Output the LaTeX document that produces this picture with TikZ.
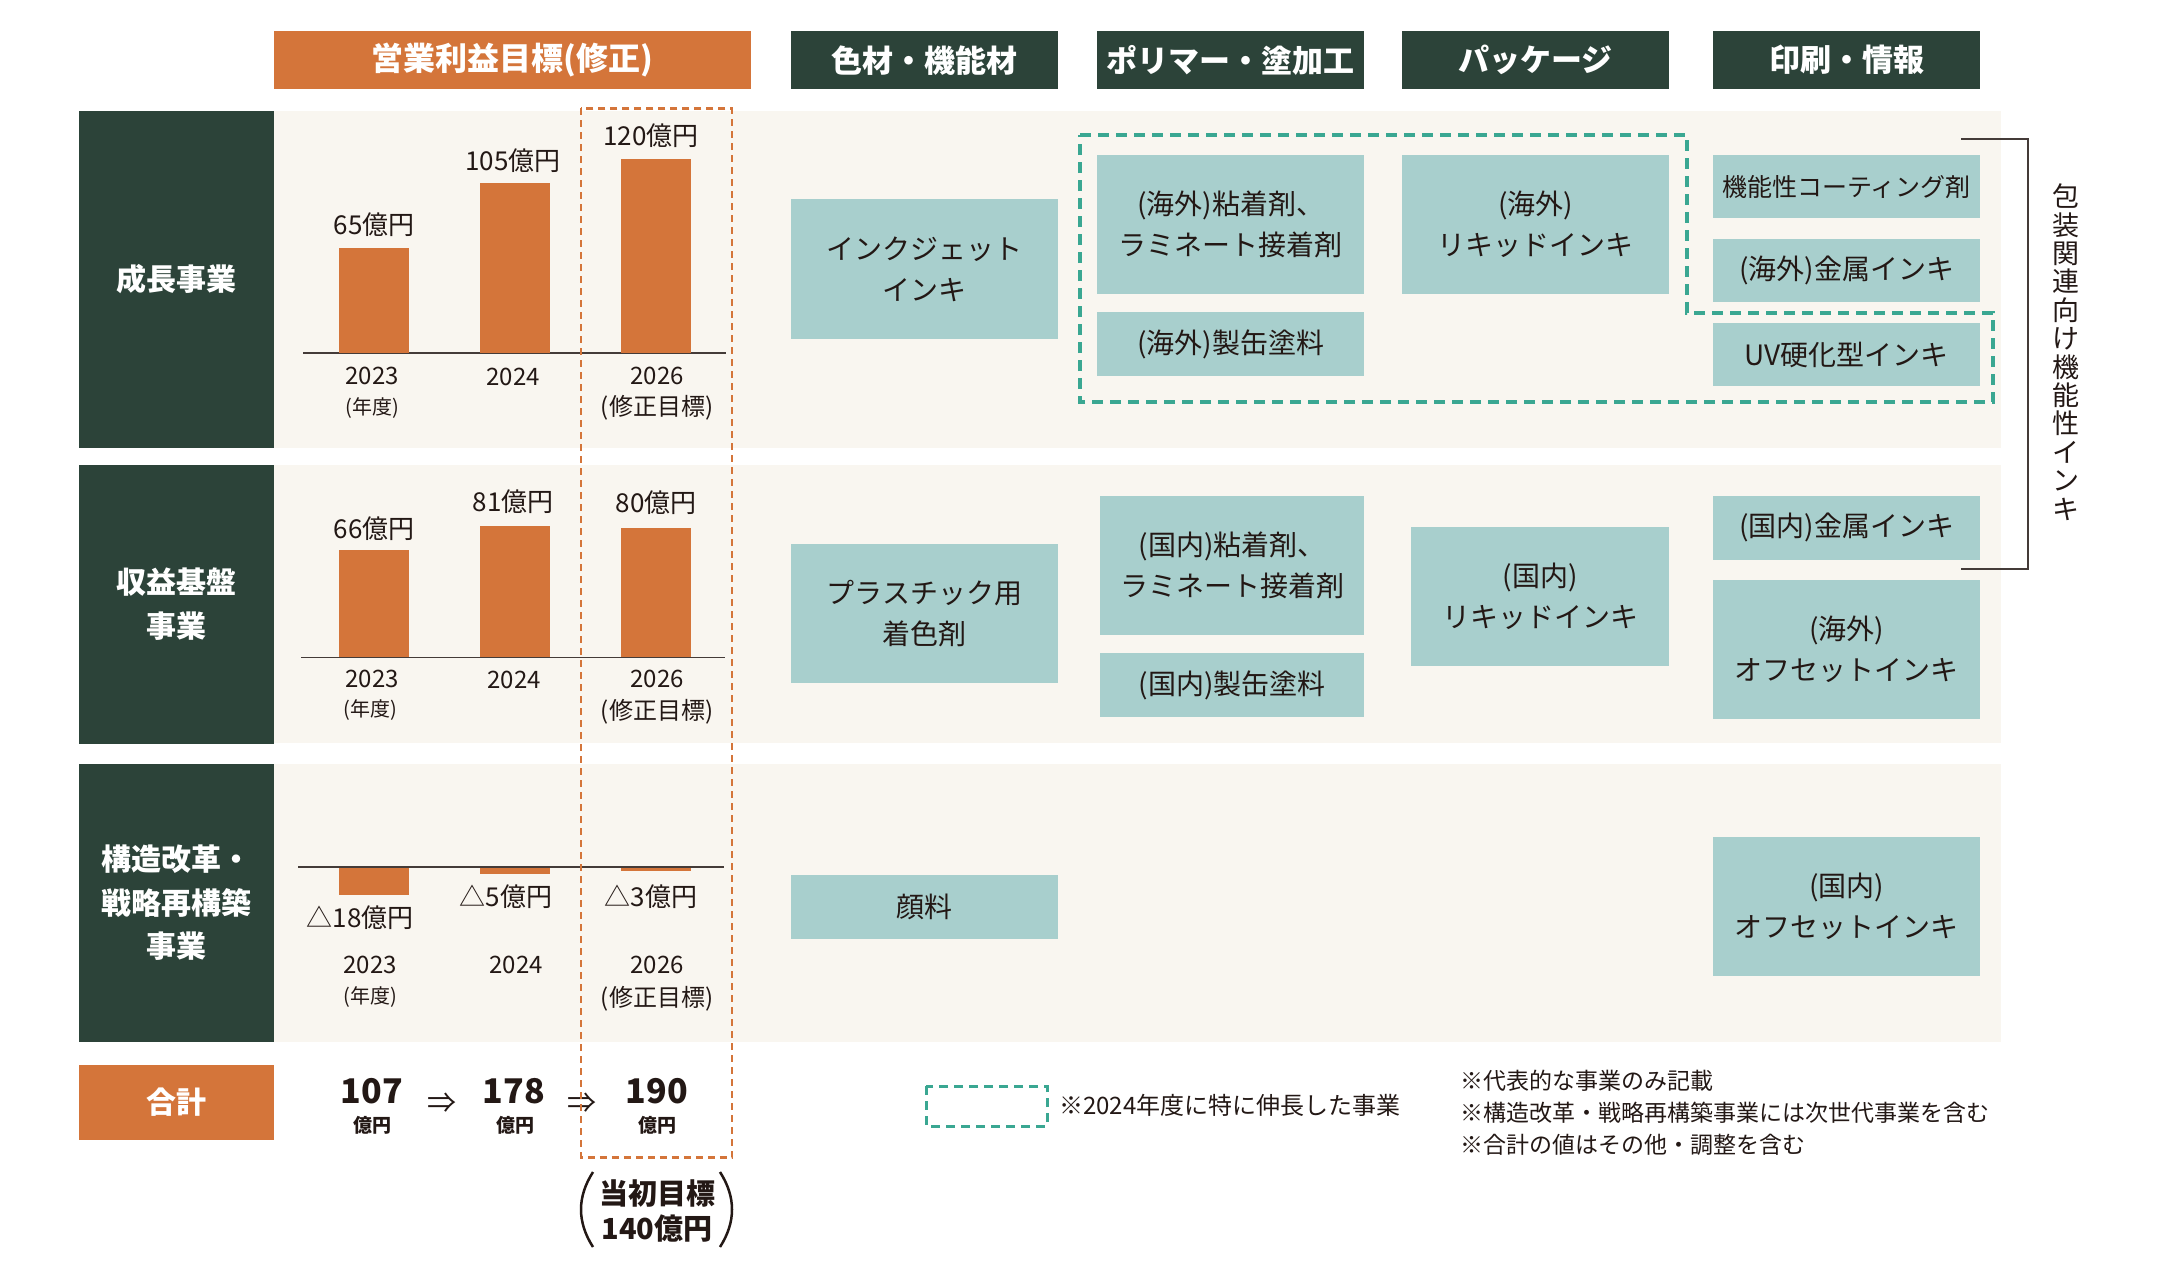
\documentclass[tikz,border=0pt]{standalone}
\usepackage{fontspec}
\setmainfont{Noto Sans CJK JP}
\definecolor{cOr}{HTML}{D4753A}
\definecolor{cDk}{HTML}{2C4339}
\definecolor{cTl}{HTML}{A8CFCD}
\definecolor{cBg}{HTML}{F9F6F0}
\definecolor{cGr}{HTML}{3AA792}
\definecolor{cInk}{HTML}{231815}
\begin{document}
\begin{tikzpicture}[x=1pt,y=-1pt]
\tikzset{
 hdr/.style={text=white, font=\bfseries\fontsize{31}{36}\selectfont, inner sep=0pt, anchor=north west, minimum height=58pt},
 hdrO/.style={hdr, fill=cOr, font=\bfseries\fontsize{32}{36}\selectfont},
 hdrG/.style={hdr, fill=cDk, minimum width=267pt},
 rowlbl/.style={fill=cDk, text=white, font=\bfseries\fontsize{30}{43.5}\selectfont, align=center, inner sep=0pt, anchor=north west, minimum width=195pt},
 tbox/.style={fill=cTl, text=cInk, font=\fontsize{28}{41}\selectfont, align=center, inner sep=0pt, anchor=north west, minimum width=267pt},
 val/.style={text=cInk, font=\fontsize{26}{30}\selectfont, inner sep=0pt},
 yr/.style={text=cInk, font=\fontsize{24}{28}\selectfont, inner sep=0pt},
 yrs/.style={text=cInk, font=\fontsize{20}{24}\selectfont, inner sep=0pt},
 bar/.style={fill=cOr},
 baseln/.style={draw=cInk!85, line width=1.8pt},
 tot/.style={text=cInk, font=\bfseries\fontsize{34}{36}\selectfont, inner sep=0pt},
 totu/.style={text=cInk, font=\bfseries\fontsize{19}{22}\selectfont, inner sep=0pt},
 arr/.style={text=cInk, font=\fontsize{29}{30}\selectfont, inner sep=0pt},
 note/.style={text=cInk, font=\fontsize{23}{32}\selectfont, inner sep=0pt, anchor=west},
 gdash/.style={draw=cGr, line width=3.5pt, dash pattern=on 11pt off 7pt},
 odash/.style={draw=cOr, line width=2.5pt, dash pattern=on 7pt off 5pt},
}
\useasboundingbox (0,0) rectangle (2160,1280);
\fill[white] (0,0) rectangle (2160,1280);

% header
\node[hdrO, minimum width=477pt] (hO) at (273.5,31) {営業利益目標(修正)};
\node[hdrG] (hC1) at (791,31) {色材・機能材};
\node[hdrG] (hC2) at (1097,31) {ポリマー・塗加工};
\node[hdrG] (hC3) at (1402,31) {パッケージ};
\node[hdrG] (hC4) at (1713,31) {印刷・情報};

% bands
\fill[cBg] (274,110.6) rectangle (2001,447.7);
\fill[cBg] (274,464.6) rectangle (2001,743.3);
\fill[cBg] (274,763.6) rectangle (2001,1042);

% row labels
\node[rowlbl, minimum height=337pt] (r1) at (79,110.6) {成長事業};
\node[rowlbl, minimum height=278.7pt] (r2) at (79,464.6) {収益基盤\\事業};
\node[rowlbl, minimum height=278.4pt] (r3) at (79,763.6) {構造改革・\\戦略再構築\\事業};
\node[rowlbl, fill=cOr, minimum height=75.2pt] (rT) at (79,1064.8) {合計};

% row 1 chart
\draw[baseln] (303,353) -- (726,353);
\fill[bar] (338.5,247.7) rectangle (409,352.5);
\fill[bar] (479.5,183.4) rectangle (550,352.5);
\fill[bar] (620.5,158.8) rectangle (691,352.5);
\node[val] (v11) at (374,225) {65億円};
\node[val] (v12) at (513,161) {105億円};
\node[val] (v13) at (651,136) {120億円};
\node[yr] (y11) at (372,376) {2023};
\node[yrs] (y11b) at (372,408) {(年度)};
\node[yr] (y12) at (513,377) {2024};
\node[yr] (y13) at (657,376) {2026};
\node[yrs, font=\fontsize{24}{28}\selectfont] (y13b) at (657,408) {(修正目標)};

% row 2 chart
\draw[baseln] (301,657.5) -- (725,657.5);
\fill[bar] (338.5,550) rectangle (409,657);
\fill[bar] (479.5,526) rectangle (550,657);
\fill[bar] (620.5,528) rectangle (691,657);
\node[val] (v21) at (374,529) {66億円};
\node[val] (v22) at (513,502) {81億円};
\node[val] (v23) at (656,503) {80億円};
\node[yr] (y21) at (372,679) {2023};
\node[yrs] (y21b) at (370,710) {(年度)};
\node[yr] (y22) at (514,680) {2024};
\node[yr] (y23) at (657,679) {2026};
\node[yrs, font=\fontsize{24}{28}\selectfont] (y23b) at (657,712) {(修正目標)};

% row 3 chart
\fill[bar] (338.5,867) rectangle (409,895);
\fill[bar] (479.5,867) rectangle (550,874);
\fill[bar] (620.5,867) rectangle (691,871);
\draw[baseln] (298,867) -- (724,867);
\node[val] (v31) at (360,918) {△18億円};
\node[val] (v32) at (506,897) {△5億円};
\node[val] (v33) at (651,897) {△3億円};
\node[yr] (y31) at (370,965) {2023};
\node[yrs] (y31b) at (370,997) {(年度)};
\node[yr] (y32) at (516,965) {2024};
\node[yr] (y33) at (657,965) {2026};
\node[yrs, font=\fontsize{24}{28}\selectfont] (y33b) at (657,999) {(修正目標)};

% totals
\node[tot] (t1) at (372,1091) {107};
\node[totu] (t1u) at (372,1125) {億円};
\node[arr] (a1) at (442,1103) {⇒};
\node[tot] (t2) at (514,1091) {178};
\node[totu] (t2u) at (515,1125) {億円};
\node[arr] (a2) at (582,1103) {⇒};
\node[tot] (t3) at (657,1091) {190};
\node[totu] (t3u) at (657,1125) {億円};

% 2026 dashed frame
\draw[odash] (581,108.4) rectangle (732,1157.6);

% initial target
\node[text=cInk, font=\bfseries\fontsize{29}{35}\selectfont, align=center, inner sep=0pt] (init) at (657,1211) {当初目標\\140億円};
\coordinate (pLt) at (593,1172); \coordinate (pLb) at (593,1247);
\coordinate (pRt) at (720,1172); \coordinate (pRb) at (720,1247);
\draw[cInk, line width=2.5pt] (pLt) .. controls (577,1197) and (577,1222) .. (pLb);
\draw[cInk, line width=2.5pt] (pRt) .. controls (736,1197) and (736,1222) .. (pRb);

% row 1 boxes
\node[tbox, minimum height=139.7pt] (b11) at (791,199) {インクジェット\\インキ};
\node[tbox, minimum height=138.7pt] (b12) at (1097,155) {(海外)粘着剤、\\ラミネート接着剤};
\node[tbox, minimum height=63.7pt] (b13) at (1097,312) {(海外)製缶塗料};
\node[tbox, minimum height=138.7pt] (b14) at (1402,155) {(海外)\\リキッドインキ};
\node[tbox, minimum height=63pt, font=\fontsize{25}{30}\selectfont] (b15) at (1713,155) {機能性コーティング剤};
\node[tbox, minimum height=63pt] (b16) at (1713,239) {(海外)金属インキ};
\node[tbox, minimum height=63pt] (b17) at (1713,323) {UV硬化型インキ};

% row 2 boxes
\node[tbox, minimum height=139.5pt] (b21) at (791,543.7) {プラスチック用\\着色剤};
\node[tbox, minimum width=264pt, minimum height=138.7pt] (b22) at (1100,495.7) {(国内)粘着剤、\\ラミネート接着剤};
\node[tbox, minimum width=264pt, minimum height=64pt] (b23) at (1100,653) {(国内)製缶塗料};
\node[tbox, minimum width=258pt, minimum height=139pt] (b24) at (1411,527) {(国内)\\リキッドインキ};
\node[tbox, minimum height=63.5pt] (b25) at (1713,496) {(国内)金属インキ};
\node[tbox, minimum height=139pt] (b26) at (1713,580) {(海外)\\オフセットインキ};

% row 3 boxes
\node[tbox, minimum height=63.5pt] (b31) at (791,875) {顔料};
\node[tbox, minimum height=139pt] (b32) at (1713,837) {(国内)\\オフセットインキ};

% green dashed group
\draw[gdash] (1080,135) -- (1687,135) -- (1687,313) -- (1993,313) -- (1993,402) -- (1080,402) -- cycle;

% bracket
\coordinate (brA) at (1961,139); \coordinate (brB) at (2028,139);
\coordinate (brC) at (2028,569); \coordinate (brD) at (1961,569);
\draw[cInk!85, line width=1.6pt] (brA) -- (brB) -- (brC) -- (brD);
\node[text=cInk, font=\fontsize{27}{28.4}\selectfont, align=center, inner sep=0pt] (vt) at (2066,352) {包\\装\\関\\連\\向\\け\\機\\能\\性\\イ\\ン\\キ};

% legend
\draw[gdash, line width=3pt, dash pattern=on 9pt off 6pt] (926,1086) rectangle (1047,1126);
\node[note, font=\fontsize{24}{30}\selectfont] (lg) at (1059,1105) {※2024年度に特に伸長した事業};
\node[note] (n1) at (1460,1081) {※代表的な事業のみ記載};
\node[note] (n2) at (1460,1113) {※構造改革・戦略再構築事業には次世代事業を含む};
\node[note] (n3) at (1460,1145) {※合計の値はその他・調整を含む};
\end{tikzpicture}
\end{document}
